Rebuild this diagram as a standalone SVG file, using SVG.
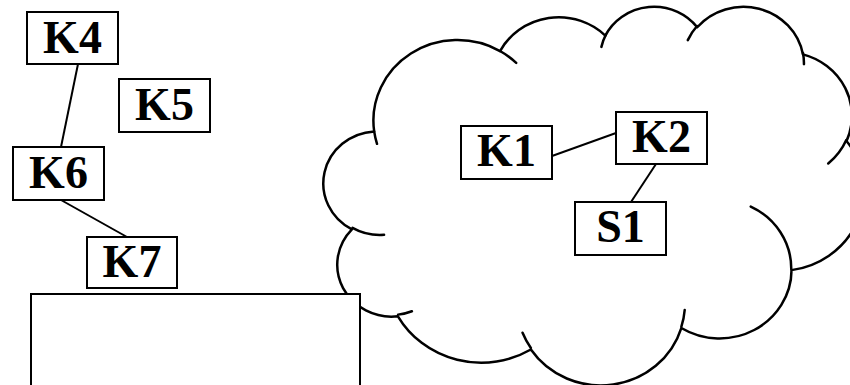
<svg xmlns="http://www.w3.org/2000/svg" width="850" height="385" viewBox="0 0 850 385">
  <style>
    .box { fill: #ffffff; stroke: #000000; stroke-width: 2; }
    .lbl { font-family: "Liberation Serif", "DejaVu Serif", serif; font-weight: bold; font-size: 46px; fill: #000000; text-anchor: middle; }
    .edge { stroke: #000000; stroke-width: 2; fill: none; }
    .cloud { fill: #ffffff; stroke: #000000; stroke-width: 2.5; stroke-linejoin: round; }
    .cloud-tail { fill: none; stroke: #000000; stroke-width: 2.5; stroke-linecap: round; }
  </style>

  <rect width="850" height="385" fill="#ffffff"/>

  <!-- cloud outline: eleven elliptical bumps -->
  <g id="cloud">
    <path class="cloud" d="M374.18,131.41
      A84.12,80.52 0 0 1 500.05,51.08
      A66.43,63.67 0 0 1 605.33,35.57
      A54.37,52.09 0 0 1 697.22,27.23
      A60.50,57.79 0 0 1 802.92,54.35
      A66.43,63.73 0 0 1 846.52,140.95
      A84.40,80.79 0 0 1 791.54,270.13
      A72.06,68.93 0 0 1 681.31,328.05
      A84.11,80.74 0 0 1 530.89,349.53
      A96.17,92.38 0 0 1 397.91,316.29
      A54.31,51.85 0 0 1 351.92,229.35
      A54.13,52.09 0 0 1 374.18,131.41 Z"/>
    <!-- inner arc stubs at the bump joints -->
    <path class="cloud-tail" d="M384.06,234.86 A54.13,52.09 0 0 1 352.51,227.88
      M411.90,311.28 A54.31,51.85 0 0 1 398.10,314.63
      M530.87,348.01 A84.11,80.74 0 0 1 522.55,332.76
      M684.70,309.99 A84.11,80.74 0 0 1 681.38,326.72
      M750.75,206.62 A72.06,68.93 0 0 1 791.25,269.15
      M846.28,140.03 A66.43,63.73 0 0 1 828.24,163.48
      M803.00,53.04 A60.50,57.79 0 0 1 803.95,64.12
      M687.82,40.13 A60.50,57.79 0 0 1 697.06,26.01
      M601.41,46.86 A54.37,52.09 0 0 1 605.89,34.68
      M500.00,50.99 A84.12,80.52 0 0 1 516.20,62.81
      M377.01,143.84 A84.12,80.52 0 0 1 374.18,131.41"/>
  </g>

  <!-- open-bottomed block at lower left -->
  <g id="block">
    <rect class="box" x="31" y="294" width="329" height="100"/>
  </g>

  <!-- connectors -->
  <g id="connectors">
    <line class="edge" x1="78" y1="64" x2="61" y2="147"/>
    <line class="edge" x1="61" y1="200" x2="127" y2="237"/>
    <line class="edge" x1="552" y1="156" x2="616" y2="133"/>
    <line class="edge" x1="656" y1="164" x2="631" y2="202"/>
  </g>

  <g id="K4">
    <rect class="box" x="27" y="12" width="91" height="52"/>
    <text class="lbl" x="72.5" y="53">K4</text>
  </g>
  <g id="K5">
    <rect class="box" x="119" y="79" width="91" height="53"/>
    <text class="lbl" x="164.5" y="120">K5</text>
  </g>
  <g id="K6">
    <rect class="box" x="13" y="147" width="91" height="53"/>
    <text class="lbl" x="58.5" y="188">K6</text>
  </g>
  <g id="K7">
    <rect class="box" x="87" y="237" width="90" height="51"/>
    <text class="lbl" x="132" y="277">K7</text>
  </g>
  <g id="K1">
    <rect class="box" x="461" y="126" width="91" height="53"/>
    <text class="lbl" x="506.5" y="166">K1</text>
  </g>
  <g id="K2">
    <rect class="box" x="616" y="112" width="91" height="52"/>
    <text class="lbl" x="661.5" y="152">K2</text>
  </g>
  <g id="S1">
    <rect class="box" x="575" y="202" width="91" height="53"/>
    <text class="lbl" x="620.5" y="242">S1</text>
  </g>
</svg>
